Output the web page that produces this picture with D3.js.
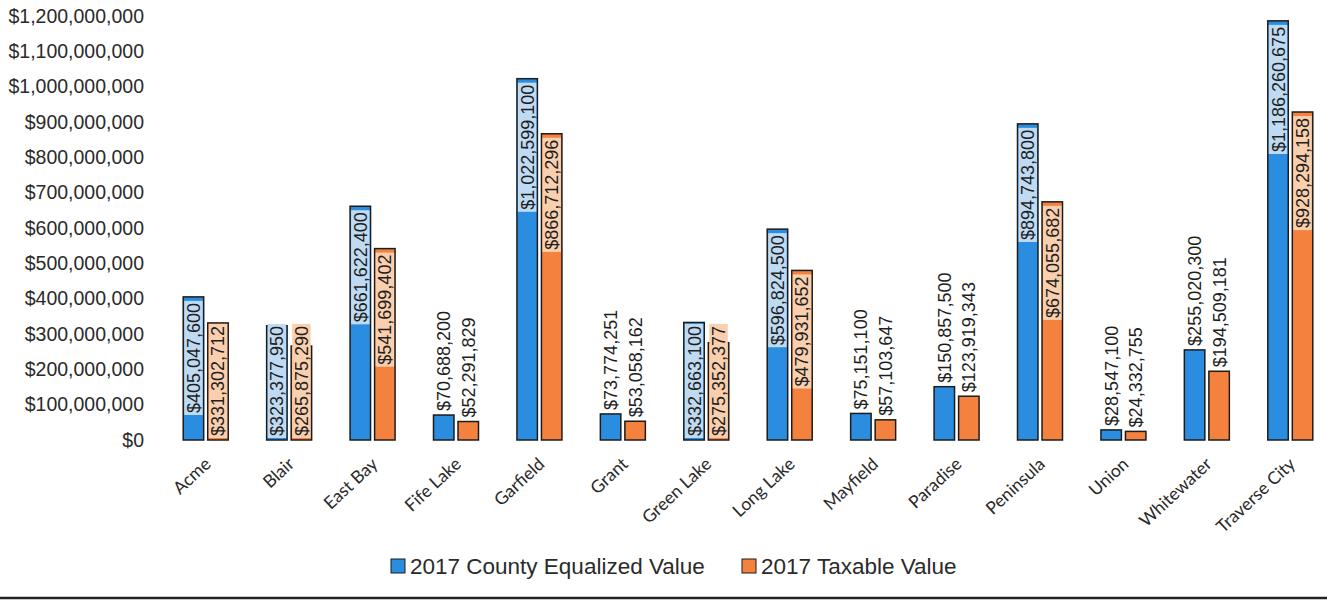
<!DOCTYPE html>
<html>
<head>
    <meta charset="utf-8">
    <title>2017 Values</title>
    <style>
        body { margin: 0; background: #fff; }
    </style>
</head>
<body>
    <script src="https://cdnjs.cloudflare.com/ajax/libs/d3/7.9.0/d3.min.js"></script>
    <script>
        const categories = ["Acme", "Blair", "East Bay", "Fife Lake", "Garfield", "Grant", "Green Lake",
            "Long Lake", "Mayfield", "Paradise", "Peninsula", "Union", "Whitewater", "Traverse City"];
        const equalized = [405047600, 323377950, 661622400, 70688200, 1022599100, 73774251, 332663100,
            596824500, 75151100, 150857500, 894743800, 28547100, 255020300, 1186260675];
        const taxable = [331302712, 265875290, 541699402, 52291829, 866712296, 53058162, 275352377,
            479931652, 57103647, 123919343, 674055682, 24332755, 194509181, 928294158];
        const yTicks = [0, 100e6, 200e6, 300e6, 400e6, 500e6, 600e6, 700e6, 800e6, 900e6, 1000e6, 1100e6, 1200e6];
        const seriesNames = ["2017 County Equalized Value", "2017 Taxable Value"];

        // values under this get their label above the bar
        const insideMin = 260e6;

        const width = 1327;
        const height = 602;

        const colors = ["#2b8de0", "#f5813f"];
        const lightColors = ["#bfdaf3", "#f9cfae"];

        const svg = d3.select("body")
            .append("svg")
            .attr("width", width)
            .attr("height", height);

        const x = d3.scaleBand()
            .domain(categories)
            .range([164, 1332]);

        const xSub = d3.scaleBand()
            .domain([0, 1])
            .range([-22.5, 22.5])
            .paddingInner(0.165);

        const y = d3.scaleLinear()
            .domain([0, 1200e6])
            .range([440, 16]);

        const fmt = d3.format("$,");

        // y axis (labels only)
        const yAxis = svg.append("g")
            .attr("transform", "translate(144,0)")
            .call(d3.axisLeft(y).tickValues(yTicks).tickFormat(fmt).tickSize(0).tickPadding(0));
        yAxis.select(".domain").remove();
        yAxis.selectAll("text")
            .attr("font-family", "'Liberation Sans', Arial, sans-serif")
            .attr("font-size", "19.5px")
            .attr("fill", "#2a2a2a");

        // x axis
        const xAxis = svg.append("g")
            .attr("transform", `translate(0,${y(0)})`)
            .call(d3.axisBottom(x).tickSize(0));
        xAxis.select(".domain").remove();
        xAxis.selectAll("text")
            .attr("font-family", "Lato, 'Open Sans', sans-serif")
            .attr("font-size", "17.5px")
            .attr("fill", "#2a2a2a")
            .attr("text-anchor", "end")
            .attr("x", 0)
            .attr("y", 0)
            .attr("dy", "0.35em")
            .attr("transform", "translate(2,21) rotate(-43)");

        const series = seriesNames.map((name, si) => ({
            name: name,
            si: si,
            values: si === 0 ? equalized : taxable
        }));

        const points = series.flatMap(s => s.values.map((v, i) => ({ si: s.si, cat: categories[i], v: v })));

        const bw = xSub.bandwidth();

        svg.append("g")
            .selectAll("rect")
            .data(points)
            .join("rect")
            .attr("x", d => x(d.cat) + x.bandwidth() / 2 + xSub(d.si))
            .attr("y", d => y(d.v))
            .attr("width", bw)
            .attr("height", d => y(0) - y(d.v))
            .attr("fill", d => colors[d.si])
            .attr("stroke", "#1c1c1c")
            .attr("stroke-width", 1.5);

        // data labels
        const labels = svg.append("g");
        points.forEach(d => {
            const cx = x(d.cat) + x.bandwidth() / 2 + xSub(d.si) + bw / 2;
            const g = labels.append("g");
            const t = g.append("text")
                .attr("font-family", "'Liberation Sans', Arial, sans-serif")
                .attr("font-size", "18px")
                .attr("fill", "#1e1e1e")
                .attr("dy", "0.36em")
                .text(fmt(d.v));
            const len = t.node().getComputedTextLength();
            if (d.v >= insideMin) {
                const top = Math.min(y(d.v) + 6, y(0) - 4 - len);
                g.insert("rect", "text")
                    .attr("x", cx - bw / 2 + 1)
                    .attr("y", top - 2)
                    .attr("width", bw - 2)
                    .attr("height", len + 4)
                    .attr("fill", lightColors[d.si]);
                t.attr("text-anchor", "end")
                    .attr("transform", `translate(${cx},${top}) rotate(-90)`);
            } else {
                t.attr("text-anchor", "start")
                    .attr("transform", `translate(${cx},${y(d.v) - 4}) rotate(-90)`);
            }
        });

        // legend
        const legendX = [391, 742];
        const legend = svg.append("g")
            .selectAll("g")
            .data(series)
            .join("g")
            .attr("transform", d => `translate(${legendX[d.si]},559)`);
        legend.append("rect")
            .attr("width", 14)
            .attr("height", 14)
            .attr("fill", d => colors[d.si])
            .attr("stroke", "#1c1c1c")
            .attr("stroke-width", 1);
        legend.append("text")
            .attr("x", 19)
            .attr("y", 7)
            .attr("dy", "0.36em")
            .attr("font-family", "'Liberation Sans', Arial, sans-serif")
            .attr("font-size", "22.5px")
            .attr("fill", "#2a2a2a")
            .text(d => d.name);

        // rule under the chart
        svg.append("line")
            .attr("x1", 0)
            .attr("x2", width)
            .attr("y1", 598)
            .attr("y2", 598)
            .attr("stroke", "#222")
            .attr("stroke-width", 2.5);
    </script>
</body>
</html>
